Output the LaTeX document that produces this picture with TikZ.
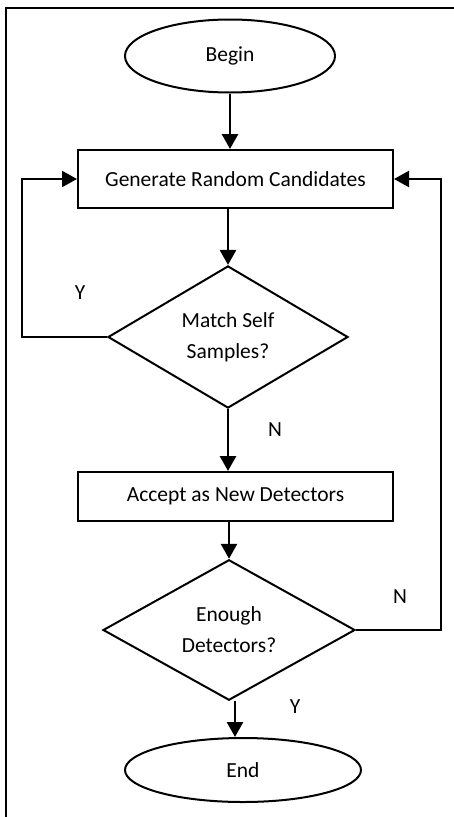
\documentclass[tikz,border=0pt]{standalone}
\usepackage{fontspec}
\setmainfont{Carlito}
\usetikzlibrary{shapes.geometric,arrows.meta}
\begin{document}
\begin{tikzpicture}[x=1pt,y=-1pt,font=\fontsize{21.5}{31}\selectfont,
 term/.style={draw,ellipse,line width=2pt,inner sep=0pt},
 proc/.style={draw,rectangle,line width=2pt,inner sep=0pt},
 test/.style={draw,diamond,line width=2pt,inner sep=0pt,align=center},
 flow/.style={line width=2.8pt,-{Triangle[length=15pt,width=16pt]}},
 back/.style={line width=2.2pt,-{Triangle[length=15pt,width=16pt]}}]
 \useasboundingbox (0,0) rectangle (454,817);
 \draw[line width=2.2pt] (6,817) -- (6,8) -- (454,8);
 \node[term,minimum width=210,minimum height=73] (begin) at (230,56) {Begin};
 \node[proc,minimum width=315,minimum height=58] (gen) at (235.5,179) {Generate Random Candidates};
 \node[test,minimum width=240,minimum height=140] (match) at (228,337) {Match Self\\Samples?};
 \node[proc,minimum width=315,minimum height=49] (accept) at (235.5,496.5) {Accept as New Detectors};
 \node[test,minimum width=252,minimum height=136] (enough) at (229,630) {Enough\\Detectors?};
 \node[term,minimum width=236,minimum height=64] (end) at (243,770) {End};
 \node (ymatch) at (80,293) {Y};
 \node (nmatch) at (275,430) {N};
 \node (nenough) at (400,597) {N};
 \node (yenough) at (295,707) {Y};
 \coordinate (leftrail) at (22,337);
 \coordinate (rightrail) at (441,630);
 \draw[flow] (begin.south) -- (begin.south |- gen.north);
 \draw[flow] (match.north |- gen.south) -- (match.north);
 \draw[flow] (match.south) -- (match.south |- accept.north);
 \draw[flow] (enough.north |- accept.south) -- (enough.north);
 \draw[flow] ([xshift=6pt]enough.south) -- ([xshift=6pt]enough.south |- end.north);
 \draw[back] (match.west) -- (leftrail) |- (gen.west);
 \draw[back] (enough.east) -- (rightrail) |- (gen.east);
\end{tikzpicture}
\end{document}
